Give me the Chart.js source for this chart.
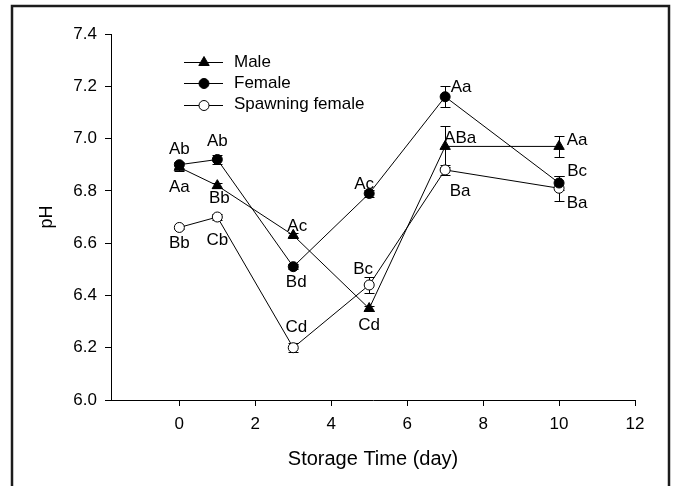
<!DOCTYPE html>
<html>
<head>
<meta charset="utf-8">
<script src="https://cdn.jsdelivr.net/npm/chart.js@4/dist/chart.umd.min.js"></script>
<style>
  html, body { margin: 0; padding: 0; background: #ffffff; }
  canvas { display: block; }
</style>
</head>
<body>
<canvas id="c" width="673" height="486"></canvas>
<script>
// ---- data ----
const days = [0, 1, 3, 5, 7, 10];
const xTicks = [0, 2, 4, 6, 8, 10, 12];
const yTicks = [6.0, 6.2, 6.4, 6.6, 6.8, 7.0, 7.2, 7.4];

const male = [6.89, 6.82, 6.63, 6.35, 6.97, 6.97];
const maleErr = [0.015, 0.01, 0.01, 0.01, 0.08, 0.04];
const maleLetters = ['Aa', 'Bb', 'Ac', 'Cd', 'ABa', 'Aa'];

const female = [6.90, 6.92, 6.51, 6.79, 7.16, 6.83];
const femaleErr = [0.012, 0.018, 0.01, 0.015, 0.04, 0.025];
const femaleLetters = ['Ab', 'Ab', 'Bd', 'Ac', 'Aa', 'Bc'];

const spawning = [6.66, 6.70, 6.20, 6.44, 6.88, 6.81];
const spawningErr = [0.006, 0.01, 0.018, 0.03, 0.02, 0.047];
const spawningLetters = ['Bb', 'Cb', 'Cd', 'Bc', 'Ba', 'Ba'];

const seriesNames = ['Male', 'Female', 'Spawning female'];

// ---- styles / label placement (pixels) ----
const FONT = '"Liberation Sans", Arial, Helvetica, sans-serif';
const letterOffsets = [
  [[0, 20], [2, 13], [4, -9], [0, 17], [15, -8], [18, -6]],
  [[0, -15], [0, -18], [3, 16], [-5, -9], [16, -9], [18, -12]],
  [[0, 16], [0, 23], [3, -20], [-6, -16], [15, 21], [18, 15]]
];

function pts(vals) { return days.map((d, i) => ({ x: d, y: vals[i] })); }

const errors = [maleErr, femaleErr, spawningErr];
const letters = [maleLetters, femaleLetters, spawningLetters];

const frame = {
  id: 'frame',
  afterDraw(chart) {
    const ctx = chart.ctx;
    ctx.save();
    ctx.strokeStyle = '#1c1c1c';
    ctx.lineWidth = 2.5;
    ctx.beginPath();
    ctx.moveTo(12, 500);
    ctx.lineTo(12, 6);
    ctx.lineTo(669, 6);
    ctx.lineTo(669, 500);
    ctx.stroke();
    ctx.restore();
  }
};

const errorBars = {
  id: 'errorBars',
  beforeDatasetsDraw(chart) {
    const ctx = chart.ctx;
    const xs = chart.scales.x, ys = chart.scales.y;
    ctx.save();
    ctx.strokeStyle = '#000';
    ctx.lineWidth = 1;
    chart.data.datasets.forEach((ds, k) => {
      ds.data.forEach((p, i) => {
        const e = errors[k][i];
        const x = Math.round(xs.getPixelForValue(p.x)) + 0.5;
        const y1 = Math.round(ys.getPixelForValue(p.y + e)) + 0.5;
        const y2 = Math.round(ys.getPixelForValue(p.y - e)) + 0.5;
        ctx.beginPath();
        ctx.moveTo(x, y1); ctx.lineTo(x, y2);
        ctx.moveTo(x - 5, y1); ctx.lineTo(x + 5, y1);
        ctx.moveTo(x - 5, y2); ctx.lineTo(x + 5, y2);
        ctx.stroke();
      });
    });
    ctx.restore();
  }
};

const letterLabels = {
  id: 'letterLabels',
  afterDatasetsDraw(chart) {
    const ctx = chart.ctx;
    const xs = chart.scales.x, ys = chart.scales.y;
    ctx.save();
    ctx.fillStyle = '#000';
    ctx.font = '17px ' + FONT;
    ctx.textAlign = 'center';
    ctx.textBaseline = 'middle';
    chart.data.datasets.forEach((ds, k) => {
      ds.data.forEach((p, i) => {
        const off = letterOffsets[k][i];
        ctx.fillText(letters[k][i], xs.getPixelForValue(p.x) + off[0], ys.getPixelForValue(p.y) + off[1]);
      });
    });
    ctx.restore();
  }
};

const customLegend = {
  id: 'customLegend',
  afterDraw(chart) {
    const ctx = chart.ctx;
    const x0 = 184, x1 = 223, xm = 204, xt = 234, yStart = 62, dy = 21.3;
    ctx.save();
    chart.data.datasets.forEach((ds, k) => {
      const y = yStart + k * dy;
      const yl = Math.round(y) + 0.5;
      ctx.strokeStyle = '#000';
      ctx.lineWidth = 1;
      ctx.beginPath();
      ctx.moveTo(x0, yl);
      ctx.lineTo(x1, yl);
      ctx.stroke();
      ctx.fillStyle = ds.pointBackgroundColor;
      ctx.strokeStyle = '#000';
      ctx.lineWidth = 1;
      Chart.helpers.drawPoint(ctx, {
        pointStyle: ds.pointStyle,
        radius: ds.pointRadius,
        borderWidth: 1,
        rotation: 0
      }, xm, yl);
      ctx.fillStyle = '#000';
      ctx.font = '17px ' + FONT;
      ctx.textAlign = 'left';
      ctx.textBaseline = 'middle';
      ctx.fillText(ds.label, xt, y);
    });
    ctx.restore();
  }
};

const baseDs = {
  borderColor: '#000',
  borderWidth: 1,
  pointBorderColor: '#000',
  pointBorderWidth: 1,
  tension: 0,
  fill: false,
  clip: false
};

new Chart(document.getElementById('c'), {
  type: 'line',
  data: {
    datasets: [
      Object.assign({}, baseDs, { label: seriesNames[0], data: pts(male), pointStyle: 'triangle', pointRadius: 6, pointBackgroundColor: '#000' }),
      Object.assign({}, baseDs, { label: seriesNames[1], data: pts(female), pointStyle: 'circle', pointRadius: 5, pointBackgroundColor: '#000' }),
      Object.assign({}, baseDs, { label: seriesNames[2], data: pts(spawning), pointStyle: 'circle', pointRadius: 5, pointBackgroundColor: '#fff' })
    ]
  },
  options: {
    responsive: false,
    animation: false,
    layout: { padding: { left: 36, right: 38, top: 34, bottom: 15 } },
    plugins: { legend: { display: false }, tooltip: { enabled: false } },
    scales: {
      x: {
        type: 'linear',
        min: -1.8,
        max: 12,
        afterBuildTicks(scale) { scale.ticks = xTicks.map(v => ({ value: v })); },
        afterFit(scale) { scale.height = 71; },
        grid: { drawOnChartArea: false, drawTicks: true, tickLength: 6, tickColor: '#000' },
        border: { display: true, color: '#000', width: 1 },
        ticks: { color: '#000', font: { family: FONT, size: 17 }, padding: 8, maxRotation: 0 },
        title: { display: true, text: 'Storage Time (day)', color: '#000', font: { family: FONT, size: 20 }, padding: { top: 0, bottom: 0 } }
      },
      y: {
        type: 'linear',
        min: 6.0,
        max: 7.4,
        afterBuildTicks(scale) { scale.ticks = yTicks.map(v => ({ value: v })); },
        afterFit(scale) { scale.width = 75; },
        grid: { drawOnChartArea: false, drawTicks: true, tickLength: 6, tickColor: '#000' },
        border: { display: true, color: '#000', width: 1 },
        ticks: { color: '#000', font: { family: FONT, size: 17 }, padding: 8, callback: v => Number(v).toFixed(1) },
        title: { display: true, text: 'pH', color: '#000', font: { family: FONT, size: 18 }, padding: { top: 0, bottom: 0 } }
      }
    }
  },
  plugins: [frame, errorBars, letterLabels, customLegend]
});
</script>
</body>
</html>
